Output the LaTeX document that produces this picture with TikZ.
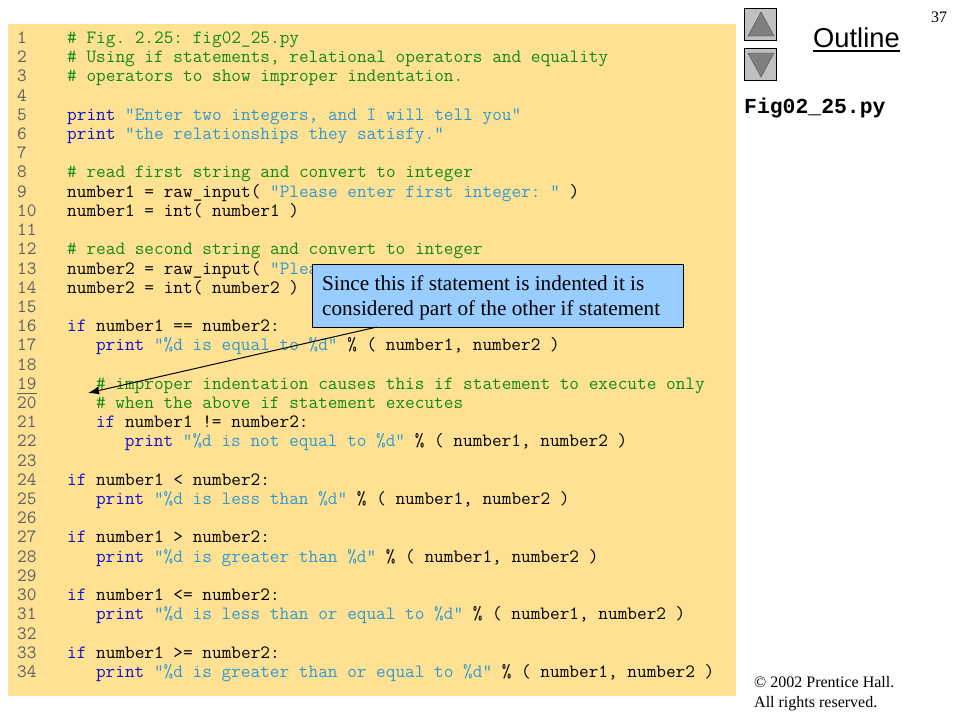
\documentclass[tikz,border=0pt]{standalone}
\usepackage{fontspec}
\setmainfont{Liberation Serif}
\newfontfamily\labelfont{Liberation Sans}
\newfontfamily\figfont{Liberation Mono}
\usetikzlibrary{calc,arrows.meta}
\tikzset{>=latex}
\definecolor{panelcol}{HTML}{FFE194}
\definecolor{boxcol}{HTML}{99CCFF}
\definecolor{cmtcol}{HTML}{118A11}
\definecolor{kwcol}{HTML}{1010C8}
\definecolor{strcol}{HTML}{3399CC}
\definecolor{numcol}{HTML}{606060}
\definecolor{btncol}{HTML}{C0C0C0}
\definecolor{tricol}{HTML}{7F7F7F}
\newcommand{\pcmt}[1]{\textcolor{cmtcol}{#1}}
\newcommand{\pkw}[1]{\textcolor{kwcol}{#1}}
\newcommand{\pstr}[1]{\textcolor{strcol}{#1}}
\frenchspacing
\tikzset{
	codeline/.style={anchor=base west,inner sep=0pt,font=\ttfamily\fontsize{18.76}{18}\selectfont,text=black},
	numline/.style={codeline,text=numcol},
	btnbox/.style={draw=black,fill=btncol,minimum width=32pt,minimum height=32pt,inner sep=0pt},
	btntri/.style={draw=black!70,fill=tricol},
	smallnote/.style={anchor=base west,inner sep=0pt,font=\fontsize{16}{16}\selectfont},
	calltext/.style={anchor=base west,inner sep=0pt,font=\fontsize{21.2}{21}\selectfont}
}
\begin{document}
\begin{tikzpicture}[x=1pt,y=-1pt]
		\useasboundingbox (0,0) rectangle (960,720);
		\fill[white] (0,0) rectangle (960,720);
		\fill[panelcol] (8,24) rectangle (736,696);
		\foreach \n in {1,...,34}
			\node[numline] (num\n) at (17,{43.5+19.21*(\n-1)}) {\n};
		\foreach \n/\ind/\txt in {
			1/0/{\pcmt{\# Fig. 2.25: fig02\_25.py}},
			2/0/{\pcmt{\# Using if statements, relational operators and equality}},
			3/0/{\pcmt{\# operators to show improper indentation.}},
			5/0/{\pkw{print} \pstr{"Enter two integers, and I will tell you"}},
			6/0/{\pkw{print} \pstr{"the relationships they satisfy."}},
			8/0/{\pcmt{\# read first string and convert to integer}},
			9/0/{number1 = raw\_input( \pstr{"Please enter first integer: "} )},
			10/0/{number1 = int( number1 )},
			12/0/{\pcmt{\# read second string and convert to integer}},
			13/0/{number2 = raw\_input( \pstr{"Plea}},
			14/0/{number2 = int( number2 )},
			16/0/{\pkw{if} number1 == number2:},
			17/3/{\pkw{print} \pstr{"\%d is equal to \%d"} \% ( number1, number2 )},
			19/3/{\pcmt{\# improper indentation causes this if statement to execute only}},
			20/3/{\pcmt{\# when the above if statement executes}},
			21/3/{\pkw{if} number1 != number2:},
			22/6/{\pkw{print} \pstr{"\%d is not equal to \%d"} \% ( number1, number2 )},
			24/0/{\pkw{if} number1 < number2:},
			25/3/{\pkw{print} \pstr{"\%d is less than \%d"} \% ( number1, number2 )},
			27/0/{\pkw{if} number1 > number2:},
			28/3/{\pkw{print} \pstr{"\%d is greater than \%d"} \% ( number1, number2 )},
			30/0/{\pkw{if} number1 <= number2:},
			31/3/{\pkw{print} \pstr{"\%d is less than or equal to \%d"} \% ( number1, number2 )},
			33/0/{\pkw{if} number1 >= number2:},
			34/3/{\pkw{print} \pstr{"\%d is greater than or equal to \%d"} \% ( number1, number2 )}}
			\node[codeline] (code\n) at ({67+9.625*\ind},{43.5+19.21*(\n-1)}) {\txt};
		\draw[numcol,line width=1pt] ([yshift=-4pt]num19.base west) -- ([yshift=-4pt]num19.base east);
		\node[draw=black,fill=boxcol,minimum width=371pt,minimum height=63pt,inner sep=0pt] (callout) at (497.5,295.5) {};
		\node[calltext] (calltop) at (322,290) {Since this if statement is indented it is};
		\node[calltext] (callbot) at (322,315) {considered part of the other if statement};
		\coordinate (calltail) at (377,327);
		\coordinate (calltip) at (88,393);
		\draw[-{Latex[length=11pt,width=8pt]},line width=1pt] (calltail) -- (calltip);
		\node[btnbox] (btnup) at (760.5,24.5) {};
		\node[btnbox] (btndown) at (760.5,64) {};
		\draw[btntri] (761,12) -- (748,36) -- (774,36) -- cycle;
		\draw[btntri] (748,53) -- (774,53) -- (761,77) -- cycle;
		\node[anchor=base west,inner sep=0pt,font=\labelfont\fontsize{27.3}{28}\selectfont] (outline) at (813,47.5) {Outline};
		\draw[line width=1.6pt] ([yshift=-3.5pt]outline.base west) -- ([yshift=-3.5pt]outline.base east);
		\node[anchor=base west,inner sep=0pt,font=\figfont\bfseries\fontsize{21.4}{21}\selectfont] (figname) at (744,113) {Fig02\_25.py};
		\node[smallnote] (pagenum) at (931,22) {37};
		\node[smallnote] (copyline) at (754,687) {\textcopyright\ 2002 Prentice Hall.};
		\node[smallnote] (rightsline) at (754,707) {All rights reserved.};
	\end{tikzpicture}
\end{document}
